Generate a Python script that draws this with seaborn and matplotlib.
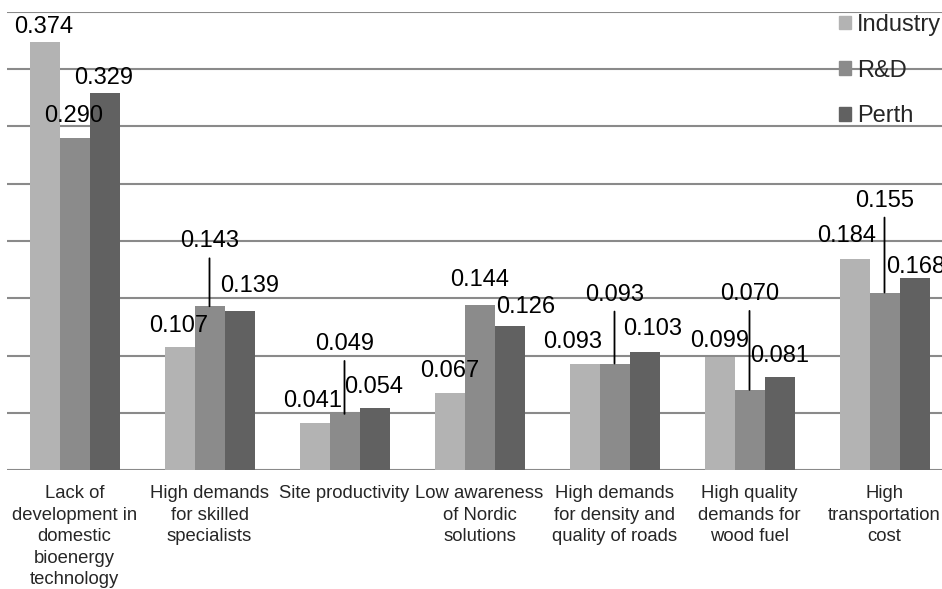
import matplotlib
matplotlib.use("Agg")
import matplotlib.pyplot as plt
import seaborn as sns
import pandas as pd
import numpy as np

# ---- data -------------------------------------------------------------
categories = [
    "Lack of\ndevelopment in\ndomestic\nbioenergy\ntechnology",
    "High demands\nfor skilled\nspecialists",
    "Site productivity",
    "Low awareness\nof Nordic\nsolutions",
    "High demands\nfor density and\nquality of roads",
    "High quality\ndemands for\nwood fuel",
    "High\ntransportation\ncost",
]
series_names = ["Industry", "R&D", "Perth"]
industry = [0.374, 0.107, 0.041, 0.067, 0.093, 0.099, 0.184]
rnd = [0.290, 0.143, 0.049, 0.144, 0.093, 0.070, 0.155]
perth = [0.329, 0.139, 0.054, 0.126, 0.103, 0.081, 0.168]

# ---- styling ----------------------------------------------------------
colors = ["#b3b3b3", "#8b8b8b", "#616161"]
grid_color = "#8a8a8a"

# value-label placement (dx, dy in pixels from the top centre of each bar)
label_offsets = [
    [(-1, 9), (-1, 15), (-2, 16), (0, 16), (-12, 16), (0, 10), (-8, 17)],
    [(-1, 16), (0, 59), (0, 64), (0, 19), (0, 63), (0, 90), (0, 86)],
    [(-1, 9), (10, 19), (-1, 15), (16, 13), (8, 17), (0, 15), (1, 5)],
]
leader_min_dy = 40  # labels lifted further than this get a leader line

sns.set_theme(style="white")
plt.rcParams["font.family"] = ["Liberation Sans", "DejaVu Sans"]

df = pd.DataFrame({
    "category": categories * 3,
    "value": industry + rnd + perth,
    "series": [s for s in series_names for _ in categories],
})

W, H = 942, 589
fig = plt.figure(figsize=(W / 100, H / 100), dpi=100)
ax = fig.add_axes([7 / W, (H - 470) / H, 945 / W, 458 / H])

sns.barplot(
    data=df, x="category", y="value", hue="series",
    hue_order=series_names, order=categories,
    palette=colors, saturation=1, width=2 / 3, gap=0,
    edgecolor="none", linewidth=0, ax=ax,
)

ax.set_xlim(-0.5, len(categories) - 0.5)
ax.set_ylim(0, 0.4)
ax.set_yticks(np.arange(0, 0.4001, 0.05))
ax.set_yticklabels([])
ax.set_xlabel("")
ax.set_ylabel("")
ax.set_axisbelow(True)
ax.yaxis.grid(True, color=grid_color, linewidth=1.5)
ax.xaxis.grid(False)
for side in ax.spines.values():
    side.set_visible(False)
ax.tick_params(axis="x", length=0, pad=11, labelsize=13.3)
ax.tick_params(axis="y", length=0)
for lbl in ax.get_xticklabels():
    lbl.set_linespacing(1.34)
    lbl.set_horizontalalignment("center")

# value labels
for s_idx, container in enumerate(ax.containers):
    for c_idx, bar in enumerate(container.patches):
        v = bar.get_height()
        xc = bar.get_x() + bar.get_width() / 2
        dx, dy = label_offsets[s_idx][c_idx]
        kw = {}
        if dy > leader_min_dy:
            kw["arrowprops"] = dict(arrowstyle="-", color="black", lw=1.3,
                                    shrinkA=2, shrinkB=0, relpos=(0.5, 0))
        ax.annotate(f"{v:.3f}", xy=(xc, v), xytext=(dx, dy),
                    textcoords="offset pixels", ha="center", va="baseline",
                    fontsize=17, color="black", annotation_clip=False, **kw)

# legend
handles = [plt.Rectangle((0, 0), 1, 1, color=c) for c in colors]
if ax.get_legend() is not None:
    ax.get_legend().remove()
fig.legend(handles, series_names, loc="upper left",
           bbox_to_anchor=(839 / W, 1 - 14 / H), frameon=False, fontsize=17,
           handlelength=0.5, handleheight=0.5, handletextpad=0.25,
           labelspacing=1.0, borderpad=0, borderaxespad=0)

fig.savefig("out.png", dpi=100)
